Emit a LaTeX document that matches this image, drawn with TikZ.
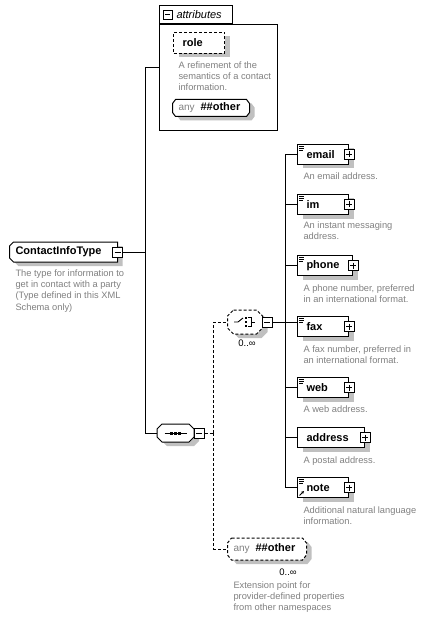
\documentclass[tikz,border=0pt]{standalone}
\usepackage{fontspec}
\setmainfont{Liberation Sans}
\usetikzlibrary{shadows,arrows.meta}
\definecolor{desc}{RGB}{128,128,128}
\definecolor{shd}{RGB}{192,192,192}
\newcommand\xsdlines[1]{\draw[line width=0.7pt] ([shift={(2,2.5)}]#1.north west) -- ++(5,0) ([shift={(2,4.5)}]#1.north west) -- ++(5,0) ([shift={(2,6.5)}]#1.north west) -- ++(4,0);}
% chamfered outline round node #1, cuts #2 (x) and #3 (y), coordinate options #4
\newcommand\chp[4]{([#4,xshift=#2]#1.north west) -- ([#4,xshift=-#2]#1.north east) -- ([#4,yshift=-#3]#1.north east) -- ([#4,yshift=#3]#1.south east) -- ([#4,xshift=-#2]#1.south east) -- ([#4,xshift=#2]#1.south west) -- ([#4,yshift=#3]#1.south west) -- ([#4,yshift=-#3]#1.north west) -- cycle}
\newcommand\chw[4]{([#4,xshift=#2]#1.north west) -- ([#4]#1.north east) -- ([#4]#1.south east) -- ([#4,xshift=#2]#1.south west) -- ([#4,yshift=#3]#1.south west) -- ([#4,yshift=-#3]#1.north west) -- cycle}
\newcommand\chshape[4]{\fill[shd] \chp{#1}{#2}{#3}{shift={(5,4)}}; \draw[fill=white,#4] \chp{#1}{#2}{#3}{shift={(0,0)}};}
\begin{document}
\begin{tikzpicture}[x=1pt,y=-1pt,line width=1pt,
  lbl/.style={font=\fontsize{11}{13}\selectfont\bfseries, inner sep=0pt},
  dsc/.style={font=\fontsize{9.3}{11.3}\selectfont, text=desc, align=left, anchor=north west, inner sep=0pt},
  shdw/.style={drop shadow={shadow xshift=5pt, shadow yshift=-4pt, fill=shd, draw=none, opacity=1}},
  elem/.style={draw, fill=white, shdw, anchor=north west, minimum height=20pt, inner xsep=9pt, inner ysep=0pt, text width=#1, align=left, font=\fontsize{11}{13}\selectfont\bfseries},
  frame/.style={draw=none, inner sep=0pt},
  minusbox/.style={draw, fill=white, minimum size=10pt, inner sep=0pt, line width=1pt,
    path picture={\draw[line width=1pt] ([xshift=2pt]path picture bounding box.west) -- ([xshift=-2pt]path picture bounding box.east);}},
  plusbox/.style={draw, fill=white, minimum size=10pt, inner sep=0pt, line width=1pt,
    path picture={\draw[line width=1pt] ([xshift=2pt]path picture bounding box.west) -- ([xshift=-2pt]path picture bounding box.east)
      ([yshift=-2pt]path picture bounding box.north) -- ([yshift=2pt]path picture bounding box.south);}},
  dconn/.style={line width=1pt, dash pattern=on 3pt off 2pt},
  dsh/.style={dash pattern=on 3pt off 2pt},
  mult/.style={font=\fontsize{9.5}{11}\selectfont, inner sep=0pt}
]
\useasboundingbox (0,0) rectangle (427,620);

% attributes container
\node[draw, fill=white, anchor=north west, minimum width=118pt, minimum height=106pt, inner sep=0pt] (attrbox) at (159,24) {};
\node[draw, fill=white, anchor=south west, minimum width=73pt, minimum height=18pt, inner sep=0pt] (attrtab) at (159,24) {};
\node[minusbox, minimum size=9pt] (attr-m) at (167.5,15) {};
\node[font=\fontsize{11}{13}\selectfont\itshape, anchor=west, inner sep=0pt] (attr-t) at (176,15) {attributes};
\node[elem=33pt, dsh, minimum height=21pt] (role) at (173,32) {role};
\node[dsc] (role-d) at (178,61) {A refinement of the\\semantics of a contact\\information.};
\node[frame, minimum width=76pt, minimum height=16pt] (anyattr) at (211,108) {};
\chshape{anyattr}{3pt}{4pt}{}
\node[anchor=west, inner sep=0pt] (anyattr-t) at (178,108) {\textcolor{desc}{\fontsize{10}{12}\selectfont any}\hspace{6pt}{\fontsize{11}{13}\selectfont\bfseries\#\#other}};

% root type
\node[frame, minimum width=107pt, minimum height=19pt] (cit) at (63.5,252) {};
\fill[shd] \chw{cit}{4pt}{4pt}{shift={(5,4)}};
\draw[fill=white] \chw{cit}{4pt}{4pt}{shift={(0,0)}};
\node[lbl, anchor=west] (cit-t) at (15,252) {ContactInfoType};
\node[minusbox] (cit-m) at (cit.east) {};
\node[dsc] (cit-d) at (15,269) {The type for information to\\get in contact with a party\\(Type defined in this XML\\Schema only)};

% trunk
\coordinate (tA) at (145,68);
\coordinate (tB) at (145,433);
\draw (tA) -- (tA -| attrbox.west);
\draw (tA) -- (tB);
\draw (cit-m.east) -- (cit-m.east -| tA);

% sequence
\node[frame, minimum width=36pt, minimum height=17pt] (seq) at (175.5,433) {};
\chshape{seq}{5pt}{5pt}{}
\draw ([xshift=-11pt]seq.center) -- ([xshift=11pt]seq.center);
\foreach \dx in {-4,0,4} \fill ([xshift=\dx pt]seq.center) +(-1.5,-1.5) rectangle +(1.5,1.5);
\node[minusbox] (seq-m) at ([xshift=5pt]seq.east) {};
\draw (tB) -- (seq.west);

% choice
\node[frame, minimum width=34pt, minimum height=23pt] (choice) at (245,322) {};
\chshape{choice}{6pt}{6pt}{dsh}
\draw[line width=0.9pt] ([xshift=-11pt]choice.center) -- ([xshift=-7pt]choice.center) -- ([shift={(-2,-4)}]choice.center);
\foreach \dy in {-4,0,4} \fill ([shift={(1,\dy)}]choice.center) +(-1.2,-1.2) rectangle +(1.2,1.2);
\draw[line width=0.9pt] ([shift={(2.5,-4.5)}]choice.center) -- ++(4,0) -- ++(0,9) -- ++(-4,0) ([shift={(6.5,0)}]choice.center) -- ++(3,0);
\node[minusbox] (choice-m) at (267,322) {};
\node[mult] (choice-n) at (247,343) {0..∞};

% dashed links
\coordinate (dA) at (213,322);
\coordinate (dB) at (213,549);
\draw[dconn] (seq-m.east) -- (seq-m.east -| dA);
\draw[dconn] (seq-m.east -| dA) -- (dB);
\draw[dconn] (seq-m.east -| dA) -- (dA);
\draw[dconn] (dA) -- (choice.west);

% any element
\node[frame, minimum width=78pt, minimum height=21pt] (anyel) at (267,549) {};
\chshape{anyel}{4pt}{5pt}{dsh}
\node[anchor=west, inner sep=0pt] (anyel-t) at (233,549) {\textcolor{desc}{\fontsize{10}{12}\selectfont any}\hspace{6pt}{\fontsize{11}{13}\selectfont\bfseries\#\#other}};
\draw[dconn] (dB) -- (anyel.west);
\node[mult] (anyel-n) at (288,572) {0..∞};
\node[dsc] (anyel-d) at (233,581) {Extension point for\\provider-defined properties\\from other namespaces};

% children
\node[elem=33pt] (email) at (297,144) {email};
\node[elem=33pt] (im) at (297,194) {im};
\node[elem=37pt] (phone) at (297,255) {phone};
\node[elem=33pt] (fax) at (297,316) {fax};
\node[elem=33pt] (web) at (297,377) {web};
\node[elem=49pt] (address) at (297,427) {address};
\node[elem=33pt] (note) at (297,477) {note};
\foreach \n in {email,im,phone,fax,web,address,note} {\node[plusbox] (\n-p) at (\n.east) {};}
\foreach \n in {email,im,phone,fax,web,note} {\xsdlines{\n}}
\draw[line width=0.8pt, -{Stealth[length=3pt,width=3pt]}] ([shift={(2.5,-2.5)}]note.south west) -- ++(4.5,-4.5);

\coordinate (tC) at (285,322);
\draw (choice-m.east) -- (tC);
\draw (email.west -| tC) -- (note.west -| tC);
\foreach \n in {email,im,phone,web,address,note} {\draw (\n.west -| tC) -- (\n.west);}
\draw (tC) -- (tC -| fax.west);

\node[dsc] (email-d) at (303,172) {An email address.};
\node[dsc] (im-d) at (303,221) {An instant messaging\\address.};
\node[dsc] (phone-d) at (303,284) {A phone number, preferred\\in an international format.};
\node[dsc] (fax-d) at (303,345) {A fax number, preferred in\\an international format.};
\node[dsc] (web-d) at (303,405) {A web address.};
\node[dsc] (address-d) at (303,456) {A postal address.};
\node[dsc] (note-d) at (303,506) {Additional natural language\\information.};
\end{tikzpicture}
\end{document}
